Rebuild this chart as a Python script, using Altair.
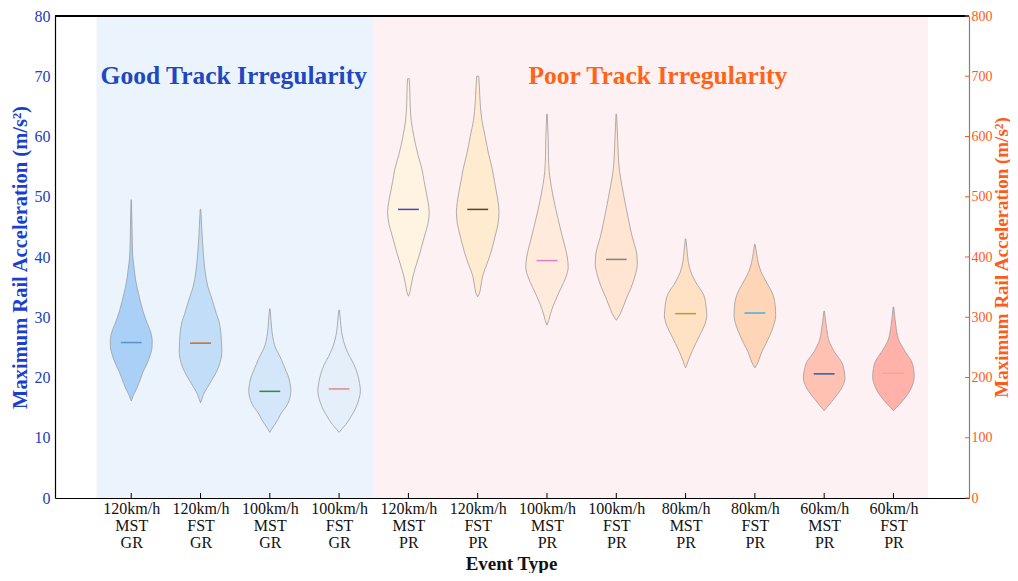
import altair as alt
import pandas as pd

# ---------------- data ----------------
speeds = ["120km/h", "120km/h", "100km/h", "100km/h", "120km/h", "120km/h",
          "100km/h", "100km/h", "80km/h", "80km/h", "60km/h", "60km/h"]
sections = ["MST", "FST", "MST", "FST", "MST", "FST",
            "MST", "FST", "MST", "FST", "MST", "FST"]
tracks = ["GR", "GR", "GR", "GR", "PR", "PR", "PR", "PR", "PR", "PR", "PR", "PR"]

# medians (GR on left axis, PR on right axis)
medians = [25.8, 25.7, 17.7, 18.1, 479, 479, 394, 396, 306, 307, 206, 207]

# violin profiles: levels (acceleration) and half widths (density shape)
levels = [
    [16.1, 17, 18, 19, 20, 21, 22, 23, 24, 25, 26, 27, 28, 29, 30, 31, 32, 33, 34, 35, 36, 38, 40, 42, 45, 49.5],
    [15.8, 16.5, 17.2, 18.3, 19.5, 20.5, 21.6, 23, 24.4, 26, 27.5, 29.3, 30.5, 32, 33.5, 35, 37.5, 40.2, 43, 45, 47.9],
    [10.9, 11.6, 12.2, 13, 13.9, 15.5, 16.8, 17.8, 19, 19.9, 21, 22.1, 23, 23.8, 24.9, 26, 27.6, 29.5, 31.4],
    [10.9, 11.5, 12.2, 13, 13.9, 15, 16.5, 17.8, 19, 20.5, 22.1, 23.5, 24.9, 26.2, 27.6, 29.5, 31.2],
    [335, 340, 347, 358, 369, 385, 408, 425, 440, 455, 474, 490, 510, 525, 545, 570, 600, 627, 655, 682, 696],
    [334, 340, 347, 358, 369, 385, 408, 425, 440, 455, 474, 490, 510, 525, 545, 570, 600, 627, 655, 682, 700],
    [287, 295, 306, 320, 334, 350, 365, 383, 400, 415, 433, 460, 487, 515, 542, 569, 598, 637],
    [295, 300, 306, 320, 334, 350, 370, 388, 405, 420, 433, 460, 487, 515, 542, 569, 598, 637],
    [216, 222, 227, 235, 243, 256, 270, 285, 303, 320, 336, 345, 353, 365, 375, 391, 410, 430],
    [216, 220, 225, 234, 243, 256, 270, 285, 303, 320, 336, 345, 353, 365, 375, 391, 405, 421],
    [145, 150, 155, 163, 172, 185, 199, 213, 227, 235, 243, 252, 260, 270, 281, 295, 310],
    [145, 150, 155, 163, 172, 185, 202, 215, 227, 235, 243, 252, 260, 270, 281, 298, 317],
]
widths = [
    [0, 2, 5, 7.5, 9.8, 12, 15, 17.5, 19.5, 20.8, 21, 20.3, 18.5, 16, 13.8, 11.8, 10.2, 8.6, 7.2, 5.8, 4.6, 3, 1.6, 1.1, 0.8, 0.2],
    [0, 1.5, 3, 6.7, 11, 14.5, 17.7, 20.3, 21.3, 21, 20.3, 18.5, 16, 13.3, 10.5, 7.5, 4.7, 3, 1.8, 1.2, 0.3],
    [0, 2.5, 5, 8, 10.8, 17.5, 20.3, 21, 20.3, 19, 16.5, 13.7, 11.5, 9.2, 5.8, 3.8, 2.2, 1.2, 0.3],
    [0, 3, 6.7, 10, 13.3, 16.8, 20, 21.3, 20.5, 18.5, 15, 10.5, 6.7, 4.2, 2.5, 1.3, 0.3],
    [0, 1.2, 2, 3.3, 4.7, 7.5, 11.7, 14.5, 17, 19.5, 20.8, 19.8, 17.5, 15.8, 13.7, 9.5, 5.5, 2.8, 1.7, 1.3, 0.8],
    [0, 1.8, 2.7, 3.8, 5, 8.5, 13.3, 16, 18.3, 20.3, 21.3, 20.5, 18.5, 16.8, 14.7, 11, 7.5, 4.2, 2.5, 1.7, 1],
    [0, 1.8, 3.5, 6.5, 10, 14.5, 18.5, 21.2, 20.3, 18.3, 15.5, 11.5, 7.8, 4.5, 2.2, 1.5, 1.2, 0.3],
    [0, 2, 4, 7.5, 10.8, 15, 19, 21, 20.5, 18.3, 16, 12.5, 9.2, 6, 3.3, 2, 1.3, 0.3],
    [0, 1.5, 2.5, 4.3, 6.3, 10, 14.2, 18.5, 21.2, 20.3, 18.3, 15.5, 12, 8, 5.3, 2.8, 1.5, 0.3],
    [0, 1.5, 3, 5, 7, 11, 15, 18.5, 20.8, 20.3, 18.3, 16, 13.3, 9.3, 6.3, 3.3, 1.8, 0.3],
    [0, 2.5, 5, 9, 13.3, 18.3, 20.8, 19.8, 17, 13.5, 10, 7.3, 5, 3.5, 2.5, 1.3, 0.3],
    [0, 2.8, 5.8, 10, 14.2, 18.5, 20.8, 20, 18, 15, 11.7, 8.5, 5.8, 4, 2.8, 1.5, 0.3],
]

region_names = ["GR", "PR"]
region_start = [-0.5, 3.5]
region_end = [3.5, 11.5]
region_titles = ["Good Track Irregularity", "Poor Track Irregularity"]
title_x = [1.48, 7.6]
title_y = [70, 70]

left_ticks = list(range(0, 81, 10))
right_ticks = list(range(0, 801, 100))

# ---------------- styles ----------------
fills = ["#abd0f8", "#c2ddf8", "#d4e6f9", "#e4effa",
         "#fff3e2", "#ffebd0", "#ffeadc", "#ffe5d2",
         "#ffe2c4", "#ffd5b8", "#ffc2b2", "#ffb1aa"]
median_colors = ["#5b8fc8", "#d2691e", "#2e8b3e", "#e08a8a",
                 "#4646c0", "#5e4030", "#e080c8", "#708888",
                 "#b89c40", "#40b0e0", "#2060b0", "#f4a888"]
region_colors = ["#ebf4fd", "#fdf1f4"]
title_colors = ["#1f47c0", "#ff6414"]
LEFT_BLUE = "#2040bf"
RIGHT_ORANGE = "#ff5a1a"
FONT = "Liberation Serif"

W, H = 914, 482
X0, X1 = -1.1, 12.09
PX_PER_UNIT = W / (X1 - X0)

# ---------------- tables ----------------
rows = []
for i in range(len(levels)):
    for lv, wd in zip(levels[i], widths[i]):
        rows.append({"idx": i, "vid": f"v{i}", "level": lv, "w": wd,
                     "track": tracks[i], "fill": fills[i]})
vdf = pd.DataFrame(rows)
gr_v = vdf[vdf.track == "GR"]
pr_v = vdf[vdf.track == "PR"]

mdf = pd.DataFrame({"idx": list(range(12)), "median": medians,
                    "color": median_colors, "track": tracks})
gr_m = mdf[mdf.track == "GR"]
pr_m = mdf[mdf.track == "PR"]

rdf = pd.DataFrame({"name": region_names, "start": region_start,
                    "end": region_end, "color": region_colors})
tdf = pd.DataFrame({"label": region_titles, "x": title_x, "y": title_y,
                    "color": title_colors})
cdf = pd.DataFrame({"idx": list(range(12))})
rtdf = pd.DataFrame({"v": right_ticks})

label_array = "[" + ",".join(
    f"['{s}','{m}','{t}']" for s, m, t in zip(speeds, sections, tracks)) + "]"

xs = alt.Scale(domain=[X0, X1], nice=False, zero=False)
xa = alt.Axis(values=list(range(12)), labelExpr=f"{label_array}[round(datum.value)]",
              title="Event Type", ticks=False, grid=False, domainColor="#000000",
              domainWidth=1.2, labelFont=FONT, labelFontSize=16, labelColor="#111111",
              labelLineHeight=17, labelPadding=2, labelBaseline="top",
              titleFont=FONT, titleFontSize=19, titleFontWeight="bold",
              titleColor="#111111", titleX=W / 2 - 1, titleY=71.5,
              titleBaseline="alphabetic", titleAlign="center")

yl = alt.Scale(domain=[0, 80], nice=False, zero=True)
yla = alt.Axis(values=left_ticks, title="Maximum Rail Acceleration (m/s²)",
               orient="left", ticks=False, grid=False, domainColor="#000000",
               domainWidth=1.2, labelFont=FONT, labelFontSize=16, labelColor=LEFT_BLUE,
               labelPadding=5, titleFont=FONT, titleFontSize=20.5, titleFontWeight="bold",
               titleColor="#1a3fd0", titleAngle=270, titleX=-35, titleY=H / 2,
               titleAlign="center", titleBaseline="middle")
yr = alt.Scale(domain=[0, 800], nice=False, zero=True)
yra = alt.Axis(values=right_ticks, title="Maximum Rail Acceleration (m/s²)",
               orient="right", ticks=False, grid=False, domainColor="#808080",
               domainWidth=1.2, labelFont=FONT, labelFontSize=14, labelColor=RIGHT_ORANGE,
               labelPadding=2, titleFont=FONT, titleFontSize=19, titleFontWeight="bold",
               titleColor=RIGHT_ORANGE, titleAngle=270, titleX=32, titleY=H / 2,
               titleAlign="center", titleBaseline="middle")

regions = alt.Chart(rdf).mark_rect().encode(
    x=alt.X("start:Q", scale=xs, axis=xa), x2="end:Q",
    y=alt.Y(datum=0, scale=yl, axis=yla), y2=alt.Y2(datum=80),
    fill=alt.Fill("color:N", scale=None))


def violins(df, ys, ya):
    return alt.Chart(df).mark_area(
        orient="horizontal", interpolate="monotone", stroke="#9c9c9c",
        strokeWidth=0.8).transform_calculate(
        lo=f"datum.idx - datum.w / {PX_PER_UNIT}",
        hi=f"datum.idx + datum.w / {PX_PER_UNIT}").encode(
        y=alt.Y("level:Q", scale=ys, axis=ya),
        x=alt.X("lo:Q", scale=xs, axis=xa), x2="hi:Q",
        detail="vid:N",
        fill=alt.Fill("fill:N", scale=None))


def median_rules(df, ys, ya):
    return alt.Chart(df).mark_rule(strokeWidth=1.5).transform_calculate(
        lo="datum.idx - 0.15", hi="datum.idx + 0.15").encode(
        y=alt.Y("median:Q", scale=ys, axis=ya),
        x=alt.X("lo:Q", scale=xs, axis=xa), x2="hi:Q",
        stroke=alt.Stroke("color:N", scale=None))


titles = alt.Chart(tdf).mark_text(font=FONT, fontSize=25.5, fontWeight="bold",
                                  baseline="middle", align="center").encode(
    x=alt.X("x:Q", scale=xs, axis=xa),
    y=alt.Y("y:Q", scale=yl, axis=yla),
    text="label:N", color=alt.Color("color:N", scale=None))

xticks = alt.Chart(cdf).mark_rule(color="#000000", strokeWidth=1).encode(
    x=alt.X("idx:Q", scale=xs, axis=xa),
    y=alt.value(H), y2=alt.value(H - 5))

top_border = alt.Chart(cdf).mark_rule(color="#000000", strokeWidth=1.2).encode(
    x=alt.value(0), x2=alt.value(W), y=alt.value(0))

rticks = alt.Chart(rtdf).mark_rule(color=RIGHT_ORANGE, strokeWidth=1).encode(
    y=alt.Y("v:Q", scale=yr, axis=yra),
    x=alt.value(W - 4), x2=alt.value(W))

left = alt.layer(regions, violins(gr_v, yl, yla), median_rules(gr_m, yl, yla),
                 titles, xticks, top_border)
right = alt.layer(violins(pr_v, yr, yra), median_rules(pr_m, yr, yra), rticks)

chart = alt.layer(left, right).resolve_scale(y="independent").properties(
    width=W, height=H,
    autosize=alt.AutoSizeParams(type="none"),
    padding={"left": 47, "top": 8, "right": 41, "bottom": 75},
).configure_view(stroke=None).configure(background="#ffffff")

chart.save("out.html", embed_options={"renderer": "svg", "actions": False})
